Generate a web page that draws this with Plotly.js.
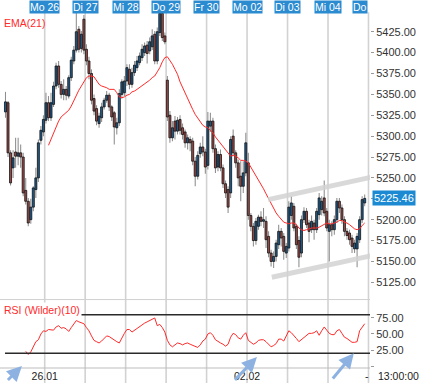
<!DOCTYPE html>
<html><head><meta charset="utf-8">
<script src="https://cdn.plot.ly/plotly-3.0.1.min.js"></script>
<style>html,body{margin:0;padding:0;background:#fff;}#chart{width:425px;height:383px;}</style>
</head><body><div id="chart"></div>
<script>
const dayLabels = ['Mo 26','Di 27','Mi 28','Do 29','Fr 30','Mo 02','Di 03','Mi 04','Do'];
const dateTickLabels = ['26.01','02.02'];
const priceTicks = [5125,5150,5175,5200,5225,5250,5275,5300,5325,5350,5375,5400,5425];
const rsiTicks = [0,25,50,75];
const rsiTickText = ['','25.00','50.00','75.00'];
const rsiLevels = [80,20];
const lastPrice = 5225.46;

const open = [5329,5340,5280,5262,5281,5276,5280,5275,5235,5222,5200,5215,5236,5250,5295,5305,
5319,5340,5322,5338,5360,5384,5362,5350,5356,5348,5370,5390,5403,5428,5405,5440,
5404,5390,5375,5345,5333,5315,5322,5335,5343,5349,5335,5328,5310,5316,5350,5352,
5366,5380,5362,5376,5382,5388,5394,5400,5409,5402,5407,5422,5390,5424,5447,5420,
5367,5325,5298,5318,5306,5320,5310,5305,5292,5296,5294,5270,5252,5279,5287,5281,
5265,5312,5318,5285,5263,5278,5262,5243,5236,5232,5300,5280,5268,5252,5240,5256,
5268,5205,5192,5175,5192,5203,5198,5198,5180,5160,5150,5156,5170,5186,5180,5160,
5166,5205,5216,5192,5175,5160,5200,5210,5196,5188,5196,5188,5206,5212,5226,5210,
5186,5194,5188,5200,5222,5214,5200,5186,5184,5178,5165,5165,5176,5200,5220];
const high = [5353,5342,5283,5283,5298,5298,5290,5280,5250,5226,5225,5240,5262,5296,5312,5325,
5352,5348,5352,5365,5388,5390,5366,5368,5360,5373,5395,5408,5455,5432,5426,5445,
5410,5395,5380,5350,5337,5328,5340,5346,5354,5352,5337,5330,5322,5356,5368,5372,
5386,5386,5382,5390,5396,5400,5410,5412,5414,5418,5428,5426,5430,5452,5452,5424,
5372,5330,5318,5324,5323,5325,5315,5308,5302,5300,5298,5275,5282,5292,5300,5285,
5329,5328,5322,5290,5282,5284,5266,5247,5240,5300,5308,5283,5272,5270,5270,5304,
5280,5208,5196,5202,5206,5210,5214,5204,5186,5164,5162,5176,5194,5190,5184,5172,
5222,5228,5220,5195,5180,5205,5215,5214,5200,5205,5200,5214,5232,5228,5247,5214,
5200,5198,5205,5226,5226,5218,5204,5190,5188,5182,5176,5184,5204,5228,5230];
const low = [5322,5275,5241,5250,5262,5265,5262,5228,5218,5192,5195,5210,5226,5245,5290,5300,
5315,5318,5318,5335,5356,5358,5345,5343,5343,5345,5366,5386,5400,5400,5400,5398,
5385,5368,5338,5325,5313,5310,5317,5332,5340,5330,5318,5290,5302,5312,5345,5348,
5360,5356,5358,5372,5378,5385,5390,5396,5387,5398,5403,5386,5386,5420,5414,5410,
5318,5292,5294,5296,5302,5302,5296,5286,5284,5282,5265,5240,5248,5274,5276,5255,
5260,5305,5280,5256,5258,5258,5238,5226,5208,5226,5276,5262,5240,5222,5232,5252,
5200,5186,5168,5170,5188,5192,5190,5166,5155,5144,5142,5150,5165,5168,5152,5154,
5162,5200,5186,5165,5143,5155,5196,5190,5173,5184,5176,5184,5200,5205,5204,5186,
5150,5180,5182,5196,5208,5195,5180,5176,5170,5160,5160,5143,5172,5196,5216];
const close = [5341,5280,5244,5274,5276,5280,5275,5232,5222,5196,5215,5238,5250,5292,5307,5320,
5340,5322,5340,5360,5384,5362,5350,5356,5349,5370,5391,5403,5425,5404,5422,5403,
5390,5375,5343,5330,5318,5324,5335,5343,5349,5335,5323,5311,5316,5351,5365,5366,
5382,5362,5376,5385,5390,5396,5404,5408,5399,5413,5420,5390,5425,5447,5418,5413,
5323,5298,5310,5306,5319,5307,5302,5292,5298,5292,5270,5252,5277,5287,5281,5263,
5318,5318,5285,5262,5278,5262,5243,5232,5215,5296,5280,5268,5250,5240,5256,5292,
5205,5192,5175,5198,5203,5198,5200,5176,5160,5150,5156,5172,5186,5178,5162,5168,
5215,5220,5190,5170,5155,5200,5210,5194,5186,5198,5188,5210,5226,5222,5208,5190,
5194,5188,5200,5222,5214,5200,5186,5181,5176,5168,5172,5180,5200,5224,5225.46];

const ema21 = [null,null,null,null,null,null,null,null,null,null,null,null,null,null,null,null,null,
5289,5296,5304,5312,5318,5323,5326,5328,5331,5336,5343,5350,5355,5360,5365,
5370,5372,5372,5371,5367,5362,5360,5359,5358,5356,5356,5356,5352,5347,5346,5347,
5349,5350,5353,5354,5356,5358,5360,5362,5365,5367,5370,5372,5377,5382,5389,5394,
5395,5391,5386,5380,5374,5365,5358,5352,5344,5338,5332,5326,5322,5317,5313,5311,
5310,5307,5304,5299,5295,5291,5288,5284,5280,5276,5277,5276,5274,5271,5271,5270,
5268,5263,5257,5252,5247,5243,5237,5231,5225,5219,5213,5208,5204,5200,5197,5196,
5195,5196,5196,5194,5190,5188,5187,5188,5189,5190,5190,5190,5191,5193,5195,5196,
5195,5195,5196,5197,5199,5199,5197,5196,5194,5191,5189,5188,5189,5193,5196];

const rsi10 = [null,null,null,null,null,null,null,null,
23,18,22,31,38,41,50,55,
54,57,57,56,61,63,59,60,58,54,60,65,71,69,67,66,
60,55,47,40,38,36,39,43,47,46,43,40,38,36,44,51,
57,57,53,56,59,62,64,67,69,71,72,75,63,65,60,53,
40,33,30,33,36,35,33,35,36,34,32,30,29,33,39,42,
50,52,48,41,38,36,34,31,34,45,51,49,44,42,48,52,
40,37,34,36,40,41,41,38,34,30,32,35,42,42,39,47,
55,52,48,43,38,41,45,48,51,51,52,55,48,55,61,56,
51,49,49,55,57,51,45,43,40,37,37,38,55,61,66];

const barsPerDay = 16;
const idx = close.map((_, i) => i);
const wickLen = high.map((h, i) => h - low[i]);
const bodyBase = close.map((c, i) => Math.min(c, open[i]));
const bodyLen = close.map((c, i) => Math.max(Math.abs(c - open[i]), 0.8));
const bodyCol = close.map((c, i) => c >= open[i] ? '#1d5c8e' : '#9c4a46');
const dayStarts = dayLabels.map((_, k) => barsPerDay * (k + 1) - 0.5);
// the last-price box hides the plain 5225 tick label, as in the reference
const priceTickText = priceTicks.map(v => Math.abs(v - lastPrice) < 10 ? '' : v.toFixed(2));

const FONT = '"Liberation Sans", Arial, sans-serif';
const RED = '#ff2a2a';

const traces = [
  {type:'bar', x: idx, y: wickLen, base: low, width: 0.42,
   xaxis:'x', yaxis:'y', marker:{color:'#8e8e8e', line:{width:0}},
   hoverinfo:'skip', showlegend:false},
  {type:'bar', x: idx, y: bodyLen, base: bodyBase, width: 0.8,
   xaxis:'x', yaxis:'y',
   marker:{color: bodyCol, line:{color:'#111', width:0.8}},
   hoverinfo:'skip', showlegend:false},
  {type:'scatter', mode:'lines', x: idx, y: ema21, xaxis:'x', yaxis:'y',
   line:{color: RED, width:1}, hoverinfo:'skip', showlegend:false},
  {type:'scatter', mode:'lines', x: idx, y: rsi10, xaxis:'x', yaxis:'y2',
   line:{color: RED, width:1}, hoverinfo:'skip', showlegend:false}
];

const shapes = [];
dayStarts.forEach(d => shapes.push({type:'line', layer:'below', xref:'x', yref:'paper',
  x0:d, x1:d, y0:-0.05, y1:0.967, line:{color:'#d2d2d2', width:1.6}}));
rsiLevels.forEach(v => shapes.push({type:'line', xref:'paper', yref:'y2',
  x0:0.0135, x1:1, y0:v, y1:v, line:{color:'#2a2a2a', width:1.5}}));
shapes.push({type:'line', xref:'paper', yref:'paper', x0:0, x1:1, y0:0.186, y1:0.186,
  line:{color:'#d0d0d0', width:1}});
shapes.push({type:'line', xref:'paper', yref:'paper', x0:0, x1:1, y0:0, y1:0,
  line:{color:'#bdbdbd', width:1}});
// channel lines
shapes.push({type:'line', xref:'x', yref:'y', x0:103.8, y0:5224, x1:145, y1:5251,
  line:{color:'rgba(210,210,210,0.85)', width:5}});
shapes.push({type:'line', xref:'x', yref:'y', x0:105.3, y0:5131, x1:145, y1:5157,
  line:{color:'rgba(210,210,210,0.85)', width:5}});

const annotations = [];
dayLabels.forEach((t, k) => annotations.push({
  text: t, x: dayStarts[k], xref:'x', y: 0.999, yref:'paper', yanchor:'top',
  xanchor: k === dayLabels.length - 1 ? 'right' : 'center',
  showarrow:false, bgcolor:'#2b8bd0', borderpad:0,
  font:{family:FONT, size:10.5, color:'#fff'}}));
annotations.push({text:'EMA(21)', x:0.006, xref:'paper', xanchor:'left',
  y:0.9375, yref:'paper', yanchor:'middle', showarrow:false,
  font:{family:FONT, size:10.5, color:RED}});
annotations.push({text:'RSI (Wilder)(10)', x:0.006, xref:'paper', xanchor:'left',
  y:0.158, yref:'paper', yanchor:'middle', showarrow:false, bgcolor:'#fff',
  font:{family:FONT, size:10.5, color:RED}});
annotations.push({text:lastPrice.toFixed(2), x:1, xref:'paper', xanchor:'left', xshift:2,
  y:lastPrice, yref:'y', yanchor:'middle', showarrow:false, bgcolor:'#1b8ad2', borderpad:1,
  font:{family:FONT, size:11, color:'#fff'}});
annotations.push({text:'13:00:00', x:1, xref:'paper', xanchor:'left', xshift:6,
  y:-0.022, yref:'paper', yanchor:'middle', showarrow:false,
  font:{family:FONT, size:10.5, color:'#222'}});
annotations.push({text:'-', x:142.8, xref:'x', xanchor:'center',
  y:-0.022, yref:'paper', yanchor:'middle', showarrow:false,
  font:{family:FONT, size:10.5, color:'#222'}});
[[6.5, 0, -17, 17], [99.4, 14, -25, 26], [137.7, 20, -24, 29]].forEach(a => annotations.push({
  text:' ', x:a[0], xref:'x', y:a[1], yref:'y2', ax:a[2], ay:a[3], showarrow:true,
  arrowhead:2, arrowsize:1, arrowwidth:3, arrowcolor:'#8db2e2', standoff:0}));

const layout = {
  width:425, height:383,
  margin:{l:0, r:55, t:0, b:15},
  paper_bgcolor:'#fff', plot_bgcolor:'#fff',
  showlegend:false, hovermode:false, dragmode:false, barmode:'overlay',
  font:{family:FONT, size:10.5, color:'#222'},
  xaxis:{domain:[0,1], range:[-2.17, 144.1], anchor:'y2',
    tickvals:[dayStarts[0], dayStarts[5]], ticktext:dateTickLabels, ticks:'',
    showgrid:false, zeroline:false, showline:false,
    tickfont:{family:FONT, size:10.5, color:'#222'}},
  yaxis:{domain:[0.1875,1], range:[5105,5463], side:'right', anchor:'x',
    tickvals:priceTicks, ticktext:priceTickText, ticks:'outside', ticklen:3, tickcolor:'#999',
    showgrid:false, zeroline:false, showline:false,
    tickfont:{family:FONT, size:11, color:'#333'}},
  yaxis2:{domain:[0,0.1848], range:[-3.1,103.1], side:'right', anchor:'x',
    tickvals:rsiTicks, ticktext:rsiTickText, ticks:'outside', ticklen:3, tickcolor:'#999',
    showgrid:false, zeroline:false, showline:false,
    tickfont:{family:FONT, size:11, color:'#333'}},
  shapes: shapes,
  annotations: annotations
};

Plotly.newPlot('chart', traces, layout, {staticPlot:true, displayModeBar:false});
</script></body></html>
